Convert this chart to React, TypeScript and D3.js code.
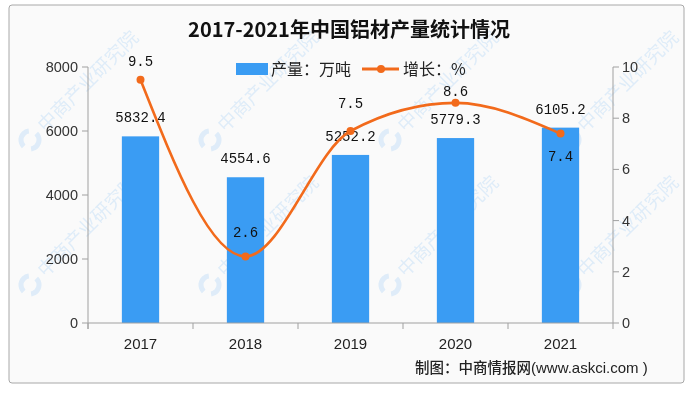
import React from "react";
import * as d3 from "d3";

const years = ["2017", "2018", "2019", "2020", "2021"];
const output = [5832.4, 4554.6, 5252.2, 5779.3, 6105.2];
const growth = [9.5, 2.6, 7.5, 8.6, 7.4];
const leftTicks = [0, 2000, 4000, 6000, 8000];
const rightTicks = [0, 2, 4, 6, 8, 10];
const growthLabelDy = [-14, -19, -23, -7, 27];

const W = 696, H = 396;
const BAR = "#3a9cf3";
const LINE = "#f26a1b";
const CJK = "'Noto Sans CJK SC', sans-serif";
const MONO = "'Liberation Mono', monospace";
const SANS = "'Liberation Sans', Arial, sans-serif";

export default function App() {
  const x = d3.scaleBand<string>().domain(years).range([88, 613]).padding(0);
  const yL = d3.scaleLinear().domain([0, 8000]).range([323, 67]);
  const yR = d3.scaleLinear().domain([0, 10]).range([323, 67]);
  const bw = x.bandwidth() * 0.355;
  const cx = (y: string) => (x(y) as number) + x.bandwidth() / 2;
  const line = d3
    .line<number>()
    .x((_, i) => cx(years[i]))
    .y((d) => yR(d))
    .curve(d3.curveMonotoneX);

  const wm: { x: number; y: number }[] = [];
  for (let j = 0; j < 2; j++)
    for (let k = 0; k < 4; k++) wm.push({ x: 30 + 180 * k, y: 140 + 145 * j });

  return (
    <div style={{ position: "fixed", left: 0, top: 0 }}>
      <svg width={W} height={H} style={{ display: "block", background: "#fff" }}>
        <rect x={9} y={5} width={675} height={378} rx={3} fill="#fafafa" stroke="#a8a8a8" strokeWidth={1} />
        {/* watermarks */}
        <g opacity={0.14}>
          {wm.map((p, i) => (
            <g key={i} transform={`translate(${p.x},${p.y}) rotate(-45)`}>
              <circle cx={0} cy={0} r={9} fill="none" stroke="#3a9cf3" strokeWidth={5} strokeDasharray="20 8" />
              <text x={16} y={6} fontFamily={CJK} fontSize={19} fill="#3a9cf3">中商产业研究院</text>
            </g>
          ))}
        </g>
        {/* title */}
        <text x={349} y={37} textAnchor="middle" fontFamily={CJK} fontWeight="bold" fontSize={20} fill="#111">
          2017-2021年中国铝材产量统计情况
        </text>
        {/* legend */}
        <rect x={236} y={63} width={32} height={12} fill={BAR} />
        <text x={271} y={75} fontFamily={CJK} fontSize={16} fill="#222">产量：万吨</text>
        <line x1={362} x2={399} y1={69} y2={69} stroke={LINE} strokeWidth={3} />
        <circle cx={381} cy={69} r={4} fill={LINE} />
        <text x={403} y={75} fontFamily={CJK} fontSize={16} fill="#222">增长：%</text>
        {/* bars */}
        {output.map((v, i) => (
          <rect key={i} x={cx(years[i]) - bw / 2} y={yL(v)} width={bw} height={yL(0) - yL(v)} fill={BAR} />
        ))}
        {output.map((v, i) => (
          <text key={i} x={cx(years[i])} y={yL(v) - 14} textAnchor="middle" fontFamily={MONO} fontSize={14} fill="#111">
            {v.toFixed(1)}
          </text>
        ))}
        {/* axes */}
        <g stroke="#a0a0a0" strokeWidth={1} fill="none">
          <line x1={88} x2={88} y1={67} y2={329} />
          <line x1={613} x2={613} y1={67} y2={329} />
          <line x1={88} x2={613} y1={323} y2={323} />
          {leftTicks.map((t) => (
            <line key={t} x1={82} x2={88} y1={yL(t)} y2={yL(t)} />
          ))}
          {rightTicks.map((t) => (
            <line key={t} x1={613} x2={619} y1={yR(t)} y2={yR(t)} />
          ))}
          {years.map((y) => (
            <line key={y} x1={x(y) as number} x2={x(y) as number} y1={323} y2={329} />
          ))}
        </g>
        {leftTicks.map((t) => (
          <text key={t} x={78} y={yL(t) + 5} textAnchor="end" fontFamily={SANS} fontSize={14.5} fill="#333">
            {t}
          </text>
        ))}
        {rightTicks.map((t) => (
          <text key={t} x={622} y={yR(t) + 5} fontFamily={SANS} fontSize={14.5} fill="#333">
            {t}
          </text>
        ))}
        {years.map((y) => (
          <text key={y} x={cx(y)} y={349} textAnchor="middle" fontFamily={SANS} fontSize={15} fill="#222">
            {y}
          </text>
        ))}
        {/* line */}
        <path d={line(growth) || ""} fill="none" stroke={LINE} strokeWidth={2.6} />
        {growth.map((v, i) => (
          <circle key={i} cx={cx(years[i])} cy={yR(v)} r={4} fill={LINE} />
        ))}
        {growth.map((v, i) => (
          <text key={i} x={cx(years[i])} y={yR(v) + growthLabelDy[i]} textAnchor="middle" fontFamily={MONO} fontSize={14} fill="#111">
            {v.toFixed(1)}
          </text>
        ))}
        {/* footer */}
        <text x={415} y={373} fontFamily={CJK} fontSize={14.5} fontWeight={500} fill="#222">
          制图：中商情报网<tspan fontFamily={SANS} fontWeight="normal" fontSize={15}>(www.askci.com )</tspan>
        </text>
      </svg>
    </div>
  );
}
